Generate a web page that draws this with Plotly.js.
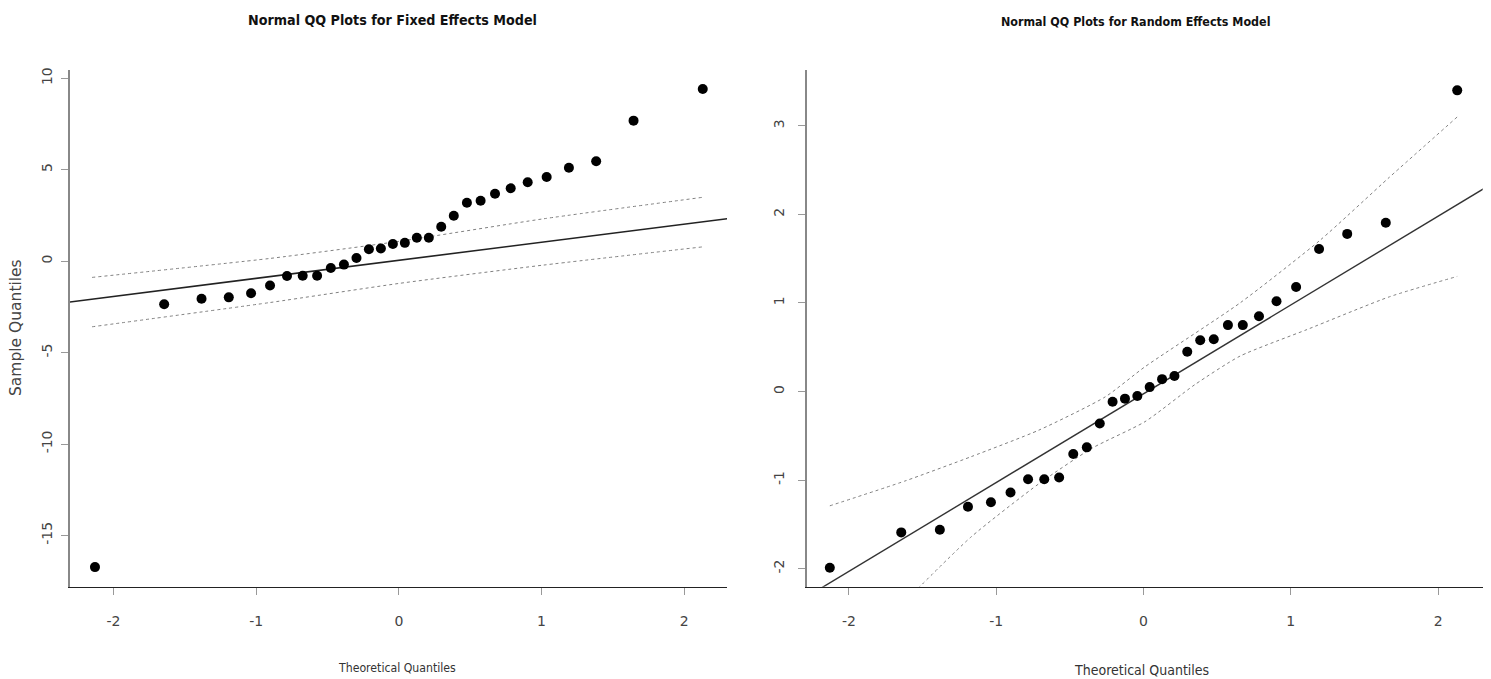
<!DOCTYPE html>
<html>
<head>
<meta charset="utf-8">
<script src="https://cdn.plot.ly/plotly-3.0.1.min.js"></script>
<style>html,body{margin:0;padding:0;background:#fff;}#chart{width:1491px;height:679px;}</style>
</head>
<body>
<div id="chart"></div>
<script>
// ---- Fixed effects model (left panel) ----
const fixedTheo = [-2.13,-1.645,-1.383,-1.192,-1.036,-0.903,-0.784,-0.674,-0.573,-0.477,-0.385,-0.297,-0.210,-0.126,-0.042,0.042,0.126,0.210,0.297,0.385,0.477,0.573,0.674,0.784,0.903,1.036,1.192,1.383,1.645,2.13];
const fixedSample = [-16.73,-2.36,-2.06,-1.98,-1.76,-1.33,-0.81,-0.80,-0.80,-0.38,-0.19,0.17,0.65,0.69,0.94,1.00,1.28,1.28,1.88,2.48,3.19,3.30,3.68,3.98,4.31,4.60,5.11,5.46,7.68,9.41];
const fixedLineX = [-2.31, 2.31];
const fixedLineY = [-2.24, 2.33];
const fixedEnvX = [-2.15, -0.9, 0, 1.01, 2.13];
const fixedEnvUpper = [-0.89, 0.15, 1.08, 2.31, 3.49];
const fixedEnvLower = [-3.59, -2.26, -1.22, -0.22, 0.78];

// ---- Random effects model (right panel) ----
const randomTheo = fixedTheo.slice();
const randomSample = [-1.99,-1.59,-1.56,-1.30,-1.25,-1.14,-0.99,-0.99,-0.97,-0.705,-0.63,-0.36,-0.115,-0.08,-0.05,0.05,0.14,0.175,0.45,0.58,0.59,0.75,0.75,0.85,1.02,1.18,1.61,1.78,1.905,3.40];
const randomLineX = [-2.29, 2.31];
const randomLineY = [-2.32, 2.29];
const randomUpperX = [-2.13,-1.62,-1.17,-0.71,-0.26,0.01,0.655,1.2,1.67,2.13];
const randomUpperY = [-1.29,-1.01,-0.735,-0.435,-0.06,0.28,1.0,1.71,2.42,3.10];
const randomLowerX = [-1.56,-1.17,-0.71,-0.35,0.01,0.35,0.655,1.11,1.67,2.13];
const randomLowerY = [-2.27,-1.64,-1.04,-0.64,-0.34,0.08,0.40,0.70,1.07,1.30];

const xTicks = [-2,-1,0,1,2];
const fixedYTicks = [-15,-10,-5,0,5,10];
const randomYTicks = [-2,-1,0,1,2,3];

const titleLeft = 'Normal QQ Plots for Fixed Effects Model';
const titleRight = 'Normal QQ Plots for Random Effects Model';
const xLabel = 'Theoretical Quantiles';
const yLabel = 'Sample Quantiles';

const narrow = 'Liberation Sans Narrow, Arial Narrow, DejaVu Sans Condensed, sans-serif';
const wide = 'DejaVu Sans, Verdana, sans-serif';

const dotStyle = {color:'#808080', width:1, dash:'dot', shape:'spline', smoothing:0.6};
const solidStyle = {color:'#222', width:1.6};
const markerStyle = {color:'#000', size:10, symbol:'circle'};

const traces = [
  {x:fixedEnvX, y:fixedEnvUpper, mode:'lines', line:dotStyle, xaxis:'x', yaxis:'y', hoverinfo:'skip'},
  {x:fixedEnvX, y:fixedEnvLower, mode:'lines', line:dotStyle, xaxis:'x', yaxis:'y', hoverinfo:'skip'},
  {x:fixedLineX, y:fixedLineY, mode:'lines', line:solidStyle, xaxis:'x', yaxis:'y', hoverinfo:'skip'},
  {x:fixedTheo, y:fixedSample, mode:'markers', marker:markerStyle, xaxis:'x', yaxis:'y', cliponaxis:false},
  {x:randomUpperX, y:randomUpperY, mode:'lines', line:dotStyle, xaxis:'x2', yaxis:'y2', hoverinfo:'skip'},
  {x:randomLowerX, y:randomLowerY, mode:'lines', line:dotStyle, xaxis:'x2', yaxis:'y2', hoverinfo:'skip'},
  {x:randomLineX, y:randomLineY, mode:'lines', line:{color:'#333', width:1.4}, xaxis:'x2', yaxis:'y2', hoverinfo:'skip'},
  {x:randomTheo, y:randomSample, mode:'markers', marker:markerStyle, xaxis:'x2', yaxis:'y2', cliponaxis:false}
];

function xAxis(domain, range, anchor){
  return {domain:domain, range:range, anchor:anchor, tickvals:xTicks, ticktext:xTicks.map(String),
    showline:true, linecolor:'#222', linewidth:1.6, ticks:'outside', ticklen:7, tickcolor:'#999', tickwidth:1,
    showgrid:false, zeroline:false, tickfont:{family:wide, size:14, color:'#444'}, ticklabelstandoff:14, fixedrange:true};
}
function yAxis(domain, range, anchor, ticks, standoff){
  return {domain:domain, range:range, anchor:anchor, tickvals:ticks, ticktext:ticks.map(String), tickangle:-90,
    showline:true, linecolor:'#888', linewidth:1.6, ticks:'outside', ticklen:7, tickcolor:'#999', tickwidth:1,
    showgrid:false, zeroline:false, tickfont:{family:wide, size:14, color:'#444'}, ticklabelstandoff:standoff, fixedrange:true};
}

const layout = {
  width:1491, height:679, margin:{l:0,r:0,t:0,b:0}, showlegend:false,
  paper_bgcolor:'#fff', plot_bgcolor:'#fff',
  xaxis: xAxis([70/1491, 727/1491], [-2.305, 2.30], 'y'),
  yaxis: yAxis([1-586.5/679, 1-70/679], [-17.79, 10.45], 'x', fixedYTicks, 4),
  xaxis2: xAxis([806.7/1491, 1482.7/1491], [-2.287, 2.303], 'y2'),
  yaxis2: yAxis([1-586.7/679, 1-70/679], [-2.203, 3.63], 'x2', randomYTicks, 9),
  annotations:[
    {text:'<b>'+titleLeft+'</b>', xref:'paper', yref:'paper', x:392/1491, y:1-20/679, xanchor:'center', yanchor:'middle', showarrow:false, font:{family:narrow, size:14.2, color:'#111'}},
    {text:'<b>'+titleRight+'</b>', xref:'paper', yref:'paper', x:1135/1491, y:1-22/679, xanchor:'center', yanchor:'middle', showarrow:false, font:{family:narrow, size:12.4, color:'#111'}},
    {text:xLabel, xref:'paper', yref:'paper', x:397/1491, y:1-668/679, xanchor:'center', yanchor:'middle', showarrow:false, font:{family:narrow, size:12.2, color:'#333'}},
    {text:xLabel, xref:'paper', yref:'paper', x:1141/1491, y:1-670/679, xanchor:'center', yanchor:'middle', showarrow:false, font:{family:narrow, size:14, color:'#333'}},
    {text:yLabel, xref:'paper', yref:'paper', x:16/1491, y:1-328/679, xanchor:'center', yanchor:'middle', textangle:-90, showarrow:false, font:{family:wide, size:15.5, color:'#444'}}
  ]
};

Plotly.newPlot('chart', traces, layout, {displayModeBar:false, staticPlot:true});
</script>
</body>
</html>
